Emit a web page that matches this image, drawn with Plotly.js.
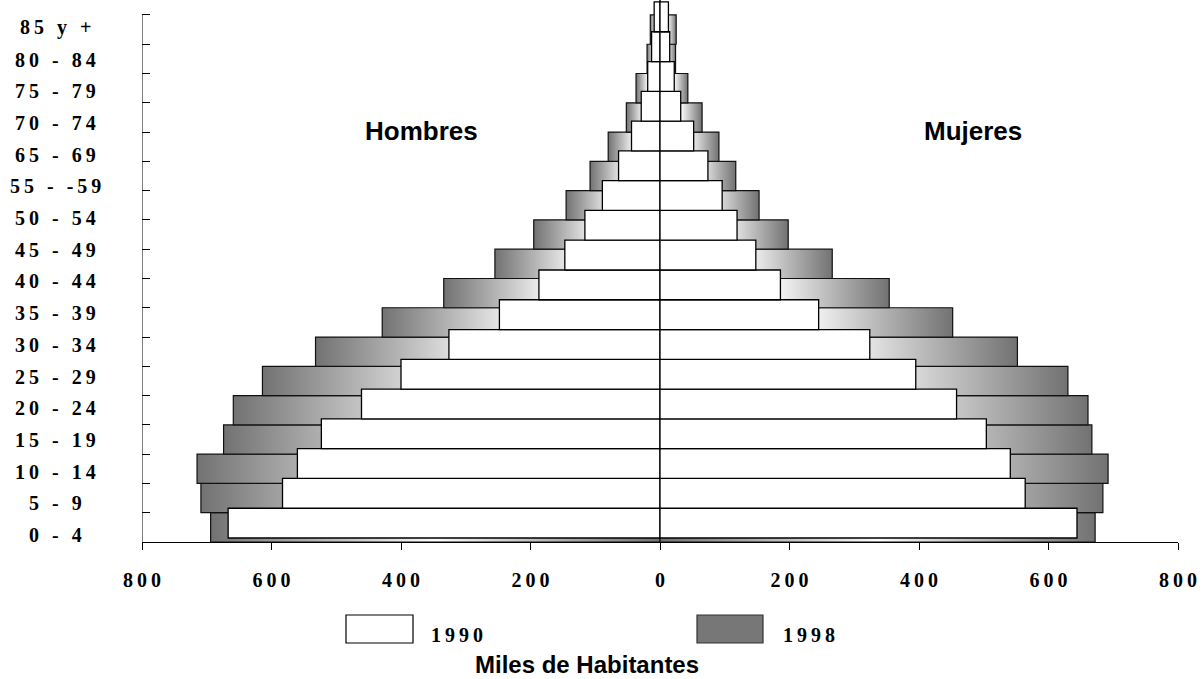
<!DOCTYPE html>
<html>
<head>
<meta charset="utf-8">
<script src="https://cdn.plot.ly/plotly-3.0.1.min.js"></script>
<style>html,body{margin:0;padding:0;background:#fff;}#chart{width:1204px;height:679px;}</style>
</head>
<body>
<div id="chart"></div>
<script>
// ---- data (index 0 = "0 - 4" ... 17 = "85 y +") ----
const ageIndex = [0,1,2,3,4,5,6,7,8,9,10,11,12,13,14,15,16,17];
const hombres1990 = [667, 583, 560, 523, 461, 400, 326, 248, 187, 147, 116, 89, 64, 44, 29, 19, 13, 9];
const hombres1998 = [694, 709, 715, 674, 659, 614, 532, 429, 334, 255, 195, 145, 108, 80, 52, 37, 20, 15];
const mujeres1990 = [644, 564, 541, 504, 458, 395, 324, 245, 186, 148, 119, 96, 74, 52, 32, 22, 15, 13];
const mujeres1998 = [672, 684, 692, 667, 661, 630, 552, 452, 354, 266, 198, 153, 117, 91, 65, 43, 24, 25];
// tick labels as printed on the original chart
const ageLabels = ["0 - 4","5 - 9","10 - 14","15 - 19","20 - 24","25 - 29","30 - 34","35 - 39",
                   "40 - 44","45 - 49","50 - 54","55 - -59","65 - 69","70 - 74","75 - 79","80 - 84","85 y +"];
const xTickValues = [-800,-600,-400,-200,0,200,400,600,800];
const xTickLabels = ["800","600","400","200","0","200","400","600","800"];
const seriesNames = ["1990","1998"];
const sideNames = ["Hombres","Mujeres"];
const axisTitle = "Miles de Habitantes";

// ---- layout geometry ----
const W = 1204, H = 679;
const M = {l:142, r:26, t:0, b:137};
const PW = W - M.l - M.r, PH = H - M.t - M.b;
const px2x = p => (p - M.l) / PW;
const px2y = p => (M.t + PH - p) / PH;
const spaced = s => s.split('').join('\u2009');

const serif = {family:'"Liberation Serif", "Times New Roman", serif', size:20, color:'#000', weight:'bold'};
const sans = {family:'"Liberation Sans", Arial, sans-serif', color:'#000', weight:'bold'};

const grad = {type:'horizontal', colorscale:[[0,'#727272'],[0.5,'#fbfbfb'],[1,'#727272']]};

const traces = [];
// 1998 bars (gradient filled, behind)
ageIndex.forEach(i => {
  [[-hombres1998[i]], [mujeres1998[i]]].forEach(v => {
    const x = v[0];
    traces.push({
      type:'scatter', mode:'lines', xaxis:'x', yaxis:'y',
      x:[0, x, x, 0, 0], y:[i-0.5, i-0.5, i+0.5, i+0.5, i-0.5],
      fill:'toself', fillcolor:'#9a9a9a', fillgradient:grad,
      line:{color:'#111', width:1.2}, hoverinfo:'skip', showlegend:false, name:seriesNames[1]
    });
  });
});
// 1990 bars (white, in front)
traces.push({
  type:'bar', orientation:'h', yaxis:'y2', name:seriesNames[0], showlegend:false,
  y:ageIndex, x:hombres1990.map(v => -v), width:1,
  marker:{color:'#ffffff', line:{color:'#000', width:1.3}}
});
traces.push({
  type:'bar', orientation:'h', yaxis:'y2', name:seriesNames[0], showlegend:false,
  y:ageIndex, x:mujeres1990, width:1,
  marker:{color:'#ffffff', line:{color:'#000', width:1.3}}
});

const boundaries = [];
for (let k = 0; k <= ageIndex.length; k++) boundaries.push(k - 0.5);

const annotations = [];
ageLabels.forEach((t, k) => {
  annotations.push({xref:'paper', yref:'paper', x:px2x(55), y:px2y(535 - 31.7*k),
    text:spaced(t), showarrow:false, xanchor:'center', yanchor:'middle', font:serif});
});
annotations.push({xref:'paper', yref:'paper', x:px2x(421), y:px2y(131), text:sideNames[0],
  showarrow:false, xanchor:'center', yanchor:'middle', font:Object.assign({size:26}, sans)});
annotations.push({xref:'paper', yref:'paper', x:px2x(973), y:px2y(131), text:sideNames[1],
  showarrow:false, xanchor:'center', yanchor:'middle', font:Object.assign({size:26}, sans)});
annotations.push({xref:'paper', yref:'paper', x:px2x(457), y:px2y(635), text:spaced(seriesNames[0]),
  showarrow:false, xanchor:'center', yanchor:'middle', font:serif});
annotations.push({xref:'paper', yref:'paper', x:px2x(809), y:px2y(635), text:spaced(seriesNames[1]),
  showarrow:false, xanchor:'center', yanchor:'middle', font:serif});
annotations.push({xref:'paper', yref:'paper', x:px2x(587), y:px2y(664), text:axisTitle,
  showarrow:false, xanchor:'center', yanchor:'middle', font:Object.assign({size:24}, sans)});

const shapes = [
  {type:'line', xref:'x', yref:'y', x0:-800, x1:-800, y0:-0.5, y1:17.5, line:{color:'#000', width:1}},
  {type:'rect', xref:'paper', yref:'paper', x0:px2x(346), x1:px2x(413), y0:px2y(643), y1:px2y(615),
   fillcolor:'#ffffff', line:{color:'#000', width:1.2}},
  {type:'rect', xref:'paper', yref:'paper', x0:px2x(697), x1:px2x(763), y0:px2y(643), y1:px2y(615),
   fillcolor:'#777777', line:{color:'#333', width:1.2}}
];

const layout = {
  width:W, height:H, margin:M, paper_bgcolor:'#fff', plot_bgcolor:'#fff',
  showlegend:false, barmode:'overlay',
  xaxis:{range:[-800,800], tickmode:'array', tickvals:xTickValues, ticktext:xTickLabels.map(spaced),
    ticks:'outside', ticklen:7, tickwidth:1, tickcolor:'#000', showline:true, linecolor:'#000', linewidth:1,
    zeroline:true, zerolinecolor:'#444', zerolinewidth:2, showgrid:false, layer:'above traces',
    tickfont:serif, ticklabelstandoff:13, fixedrange:true},
  yaxis:{range:[-0.5, -0.5 + PH/29.28], tickmode:'array', tickvals:boundaries, ticks:'inside', ticklen:8,
    tickwidth:1, tickcolor:'#000', showticklabels:false, showline:false, showgrid:false, zeroline:false, fixedrange:true},
  yaxis2:{overlaying:'y', range:[-0.634, 17.566], showticklabels:false, showline:false, showgrid:false,
    zeroline:false, ticks:'', fixedrange:true},
  annotations:annotations, shapes:shapes
};

Plotly.newPlot('chart', traces, layout, {displayModeBar:false, staticPlot:true});
</script>
</body>
</html>
